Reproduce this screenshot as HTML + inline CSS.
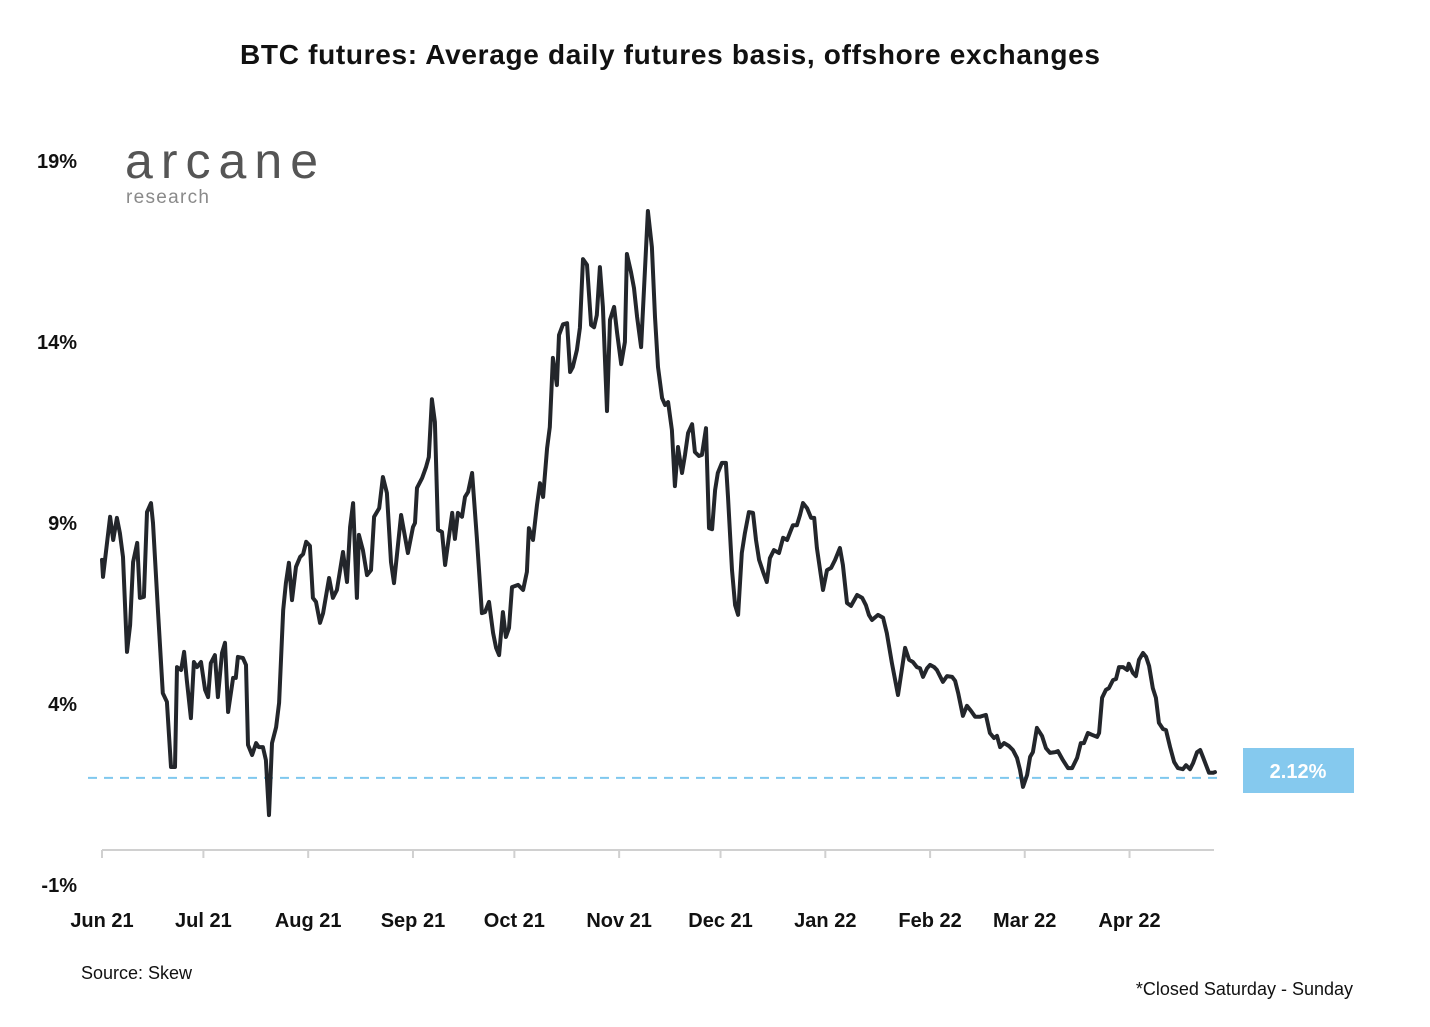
<!DOCTYPE html>
<html><head><meta charset="utf-8"><style>
html,body{margin:0;padding:0;background:#fff;}
body{width:1430px;height:1022px;overflow:hidden;font-family:"Liberation Sans",sans-serif;}
</style></head><body>
<svg id="chart" width="1430" height="1022" viewBox="0 0 1430 1022" xmlns="http://www.w3.org/2000/svg" font-family="Liberation Sans, sans-serif">
<text x="240" y="64" font-size="28" font-weight="bold" fill="#111" textLength="860" lengthAdjust="spacing">BTC futures: Average daily futures basis, offshore exchanges</text>
<g>
<text x="125" y="178" font-size="50" fill="#555" textLength="193" lengthAdjust="spacing">arcane</text>
<text x="126" y="203" font-size="19" fill="#8a8a8a" textLength="83" lengthAdjust="spacing">research</text>
</g>
<g id="yaxis"></g>
<g id="xaxis"></g>
<g id="plot"></g>
<text x="81" y="979" font-size="18" fill="#111">Source: Skew</text>
<text x="1353" y="995" text-anchor="end" font-size="18" fill="#111">*Closed Saturday - Sunday</text>
</svg>
<script>
const yTicks = [-1, 4, 9, 14, 19];
const monthLabels = ["Jun 21","Jul 21","Aug 21","Sep 21","Oct 21","Nov 21","Dec 21","Jan 22","Feb 22","Mar 22","Apr 22"];
const monthDays = [0,30,61,92,122,153,183,214,245,273,304];
const days = [0,0.3,2.4,3.3,4.4,5.3,6.2,7.4,8.3,9.2,10.4,11.2,12.4,13.3,14.5,15.1,16.6,18.0,19.2,20.4,21.6,22.2,23.4,24.3,25.1,26.3,27.2,28.1,29.3,30.5,31.4,32.2,33.4,34.3,35.5,36.4,37.3,38.8,39.6,40.2,41.7,42.6,43.2,44.4,45.6,46.4,47.6,48.5,49.4,50.3,51.5,52.4,53.6,54.4,55.3,56.2,57.4,58.6,59.5,60.4,61.5,62.4,63.3,64.5,65.4,67.2,68.3,69.5,71.3,72.5,73.4,74.3,75.4,76.0,77.2,78.4,79.6,80.5,82.0,83.1,84.3,85.5,86.4,88.5,90.5,92.0,92.6,93.2,94.7,95.9,96.7,97.6,98.5,99.4,100.6,101.5,103.6,104.4,105.3,106.5,107.4,108.3,109.5,110.9,112.4,113.3,114.5,115.7,116.6,117.5,118.6,119.5,120.4,121.3,123.1,124.6,125.7,126.3,127.5,128.7,129.6,130.5,131.7,132.5,133.4,134.6,135.2,136.4,137.6,138.5,139.3,140.5,141.4,142.3,143.5,144.7,145.6,146.4,147.3,148.2,149.4,150.3,151.5,152.4,153.6,154.7,155.3,156.5,157.4,158.3,159.5,161.5,162.7,163.6,164.5,165.7,166.6,167.5,168.6,169.5,170.4,171.6,172.5,173.4,174.6,175.4,176.6,177.5,178.7,179.6,180.5,181.4,182.2,183.4,184.6,185.2,186.4,187.3,188.2,189.3,190.2,191.4,192.6,193.5,194.4,195.6,196.7,197.6,198.8,200.3,201.5,202.7,203.6,204.4,205.6,206.5,207.4,208.6,209.8,210.7,211.5,213.3,214.5,215.7,216.9,218.3,219.2,220.4,221.6,223.4,224.9,226.0,226.9,227.8,229.6,231.1,232.2,233.7,235.5,237.6,238.8,239.9,241.1,242.0,242.9,244.1,245.0,246.2,247.0,248.8,250.0,251.5,252.4,253.3,254.7,255.9,257.1,258.3,259.8,261.5,262.7,263.9,264.8,265.7,266.9,268.3,269.5,270.7,271.6,272.5,273.7,274.6,275.4,276.6,278.1,279.3,280.5,282.0,282.8,284.3,285.8,287.0,288.5,289.6,290.5,291.7,292.9,294.4,295.0,295.9,297.0,297.9,299.1,300.0,300.9,302.1,303.3,303.8,305.0,305.9,306.8,308.0,308.9,309.8,310.9,311.8,312.7,313.9,314.8,316.0,317.2,318.3,319.8,320.7,321.9,322.8,324.0,324.9,325.7,327.5,328.7,329.3];
const basis = [7.98,7.51,9.17,8.53,9.14,8.72,8.06,5.44,6.18,7.92,8.45,6.93,6.96,9.30,9.55,9.00,6.51,4.30,4.06,2.26,2.26,5.02,4.94,5.44,4.66,3.61,5.16,5.02,5.16,4.39,4.19,5.13,5.35,4.19,5.41,5.69,3.78,4.72,4.72,5.30,5.27,5.08,2.87,2.59,2.92,2.81,2.81,2.45,0.93,2.92,3.36,4.03,6.60,7.34,7.90,6.87,7.79,8.06,8.14,8.48,8.37,6.93,6.82,6.24,6.51,7.48,6.93,7.15,8.20,7.37,8.89,9.55,6.93,8.67,8.25,7.56,7.70,9.17,9.41,10.27,9.83,7.92,7.34,9.22,8.17,8.89,9.00,9.97,10.24,10.55,10.82,12.42,11.79,8.81,8.75,7.84,9.28,8.56,9.28,9.17,9.72,9.86,10.38,8.61,6.51,6.54,6.82,5.96,5.55,5.35,6.54,5.85,6.10,7.23,7.29,7.15,7.65,8.86,8.53,9.50,10.10,9.72,11.07,11.65,13.56,12.81,14.19,14.49,14.52,13.17,13.31,13.78,14.39,16.29,16.13,14.47,14.41,14.74,16.07,14.97,12.09,14.61,14.97,14.25,13.39,14.00,16.43,15.93,15.49,14.69,13.86,17.62,16.62,14.69,13.31,12.45,12.26,12.34,11.57,10.02,11.10,10.38,10.88,11.49,11.73,10.96,10.85,10.88,11.62,8.86,8.83,9.91,10.38,10.66,10.66,9.72,7.70,6.73,6.46,8.17,8.72,9.30,9.28,8.53,7.98,7.65,7.37,8.03,8.25,8.17,8.59,8.53,8.75,8.94,8.94,9.22,9.55,9.41,9.14,9.14,8.31,7.15,7.70,7.76,7.98,8.31,7.84,6.79,6.71,7.01,6.93,6.73,6.46,6.32,6.46,6.38,5.96,5.13,4.25,5.55,5.22,5.16,5.02,4.99,4.75,4.99,5.08,5.02,4.94,4.61,4.77,4.75,4.64,4.30,3.67,3.95,3.81,3.65,3.65,3.70,3.20,3.06,3.12,2.81,2.92,2.84,2.73,2.51,2.18,1.71,2.04,2.54,2.67,3.34,3.12,2.78,2.65,2.67,2.70,2.45,2.23,2.23,2.51,2.92,2.92,3.20,3.15,3.09,3.20,4.17,4.39,4.44,4.66,4.69,5.02,5.02,4.94,5.11,4.86,4.77,5.22,5.41,5.30,5.05,4.44,4.17,3.48,3.31,3.28,2.81,2.40,2.23,2.20,2.31,2.20,2.37,2.67,2.73,2.54,2.10,2.10,2.12];
const refValue = [1.96];
const lastLabel = ["2.12%"];

const NS = "http://www.w3.org/2000/svg";
function xS(d){ return 102 + d*3.38; }
function yS(v){ return 885 - (v+1)*36.2; }
function mk(tag, attrs, parent, text){
  const e = document.createElementNS(NS, tag);
  for (const k in attrs) e.setAttribute(k, attrs[k]);
  if (text !== undefined) e.textContent = text;
  parent.appendChild(e);
  return e;
}
const yAxis = document.getElementById('yaxis');
yTicks.forEach(t => {
  const e = mk('text', {x:77, y:yS(t)+7, 'text-anchor':'end', 'font-size':20, 'font-weight':'bold', fill:'#111'}, yAxis, t + '%');
  
  
});
const xAxis = document.getElementById('xaxis');
const axLine = mk('line', {x1:102, x2:1214, y1:850, y2:850, stroke:'#d0d0d0', 'stroke-width':2}, xAxis);


monthDays.forEach((d, i) => {
  const tk = mk('line', {x1:xS(d), x2:xS(d), y1:850, y2:858, stroke:'#d0d0d0', 'stroke-width':2}, xAxis);
  
  
  const lb = mk('text', {x:xS(d), y:927, 'text-anchor':'middle', 'font-size':20, 'font-weight':'bold', fill:'#111'}, xAxis, monthLabels[i]);
  
  
});
const plot = document.getElementById('plot');
const ref = mk('line', {x1:88, x2:1218, y1:yS(refValue[0]), y2:yS(refValue[0]), stroke:'#7fc8ee', 'stroke-width':2, 'stroke-dasharray':'9,7'}, plot);


const pts = days.map((d, i) => xS(d).toFixed(1) + ',' + yS(basis[i]).toFixed(1)).join(' ');
const line = mk('polyline', {points:pts, fill:'none', stroke:'#23262b', 'stroke-width':4, 'stroke-linejoin':'round', 'stroke-linecap':'round'}, plot);


const box = mk('rect', {x:1243, y:748, width:111, height:45, fill:'#85c9ee'}, plot);


const bt = mk('text', {x:1298, y:778, 'text-anchor':'middle', 'font-size':20, 'font-weight':'bold', fill:'#fff'}, plot, lastLabel[0]);


</script>
</body></html>
